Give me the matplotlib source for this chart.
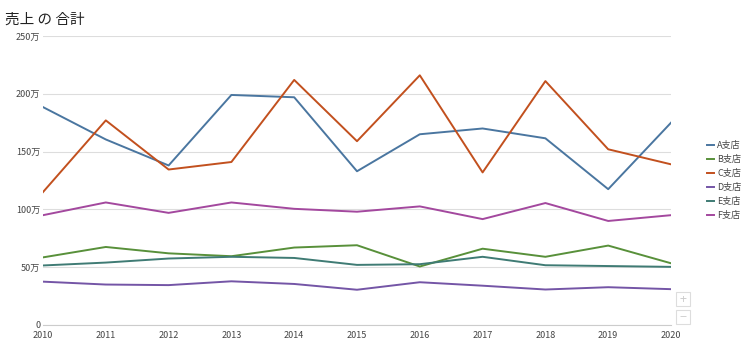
import matplotlib.pyplot as plt
from matplotlib.patches import Rectangle
from matplotlib.ticker import FuncFormatter

plt.rcParams['font.family'] = ['Noto Sans CJK JP', 'DejaVu Sans']

years = [2010, 2011, 2012, 2013, 2014, 2015, 2016, 2017, 2018, 2019, 2020]
branches = ['A支店', 'B支店', 'C支店', 'D支店', 'E支店', 'F支店']

# sales in units of 10,000 (万)
sales_a = [188.5, 160.5, 138, 199, 197, 133, 165, 170, 161.5, 117.5, 175]
sales_b = [58.5, 67.5, 62, 59.5, 67, 69, 50.6, 66, 59, 68.7, 53.4]
sales_c = [115, 177, 134.5, 141, 212, 159, 216, 132, 211, 152, 139]
sales_d = [37.5, 35, 34.5, 37.8, 35.5, 30.5, 37, 34, 30.7, 32.7, 31]
sales_e = [51.5, 54, 57.5, 59, 58, 52, 52.6, 59, 51.7, 51, 50.3]
sales_f = [95, 106, 97, 106, 100.5, 98, 102.6, 91.6, 105.5, 90, 95]

colors = ['#4a76a0', '#58903a', '#c2501e', '#7455a6', '#3f7b74', '#a3489e']

fig = plt.figure(figsize=(7.5, 3.51), dpi=100)
ax = fig.add_axes([43 / 750, 1 - 325 / 351, 628 / 750, 289 / 351])

for name, vals, c in zip(branches, [sales_a, sales_b, sales_c, sales_d, sales_e, sales_f], colors):
    ax.plot(years, vals, color=c, lw=1.4, label=name)

ax.set_xlim(2010, 2020)
ax.set_ylim(0, 250)
ax.set_xticks(years)
ax.set_yticks([0, 50, 100, 150, 200, 250])
ax.yaxis.set_major_formatter(FuncFormatter(lambda v, p: '0' if v == 0 else f'{v:g}万'))
ax.grid(axis='y', color='#dddddd', lw=0.8)
ax.set_axisbelow(True)
for s in ['top', 'right', 'left']:
    ax.spines[s].set_visible(False)
ax.spines['bottom'].set_color('#cccccc')
ax.tick_params(length=0, labelsize=6.5, colors='#444444')
ax.tick_params(axis='y', pad=2)
ax.tick_params(axis='x', pad=4)

fig.text(5 / 750, 1 - 20 / 351, '売上 の 合計', fontsize=10.5, color='#222222', va='center')

ax.legend(loc='center left', bbox_to_anchor=(1.045, 0.5), frameon=False, fontsize=6.5,
          handlelength=0.7, handletextpad=0.4, labelspacing=0.55, labelcolor='#444444')

# zoom buttons
for y0, sym in [(292, '+'), (310, '−')]:
    fig.patches.append(Rectangle((676 / 750, 1 - (y0 + 14) / 351), 14 / 750, 14 / 351,
                                 transform=fig.transFigure, fill=False, ec='#dddddd', lw=0.8))
    fig.text(683 / 750, 1 - (y0 + 7) / 351, sym, fontsize=9, color='#cccccc', ha='center', va='center')

fig.savefig('out.png', dpi=100)
